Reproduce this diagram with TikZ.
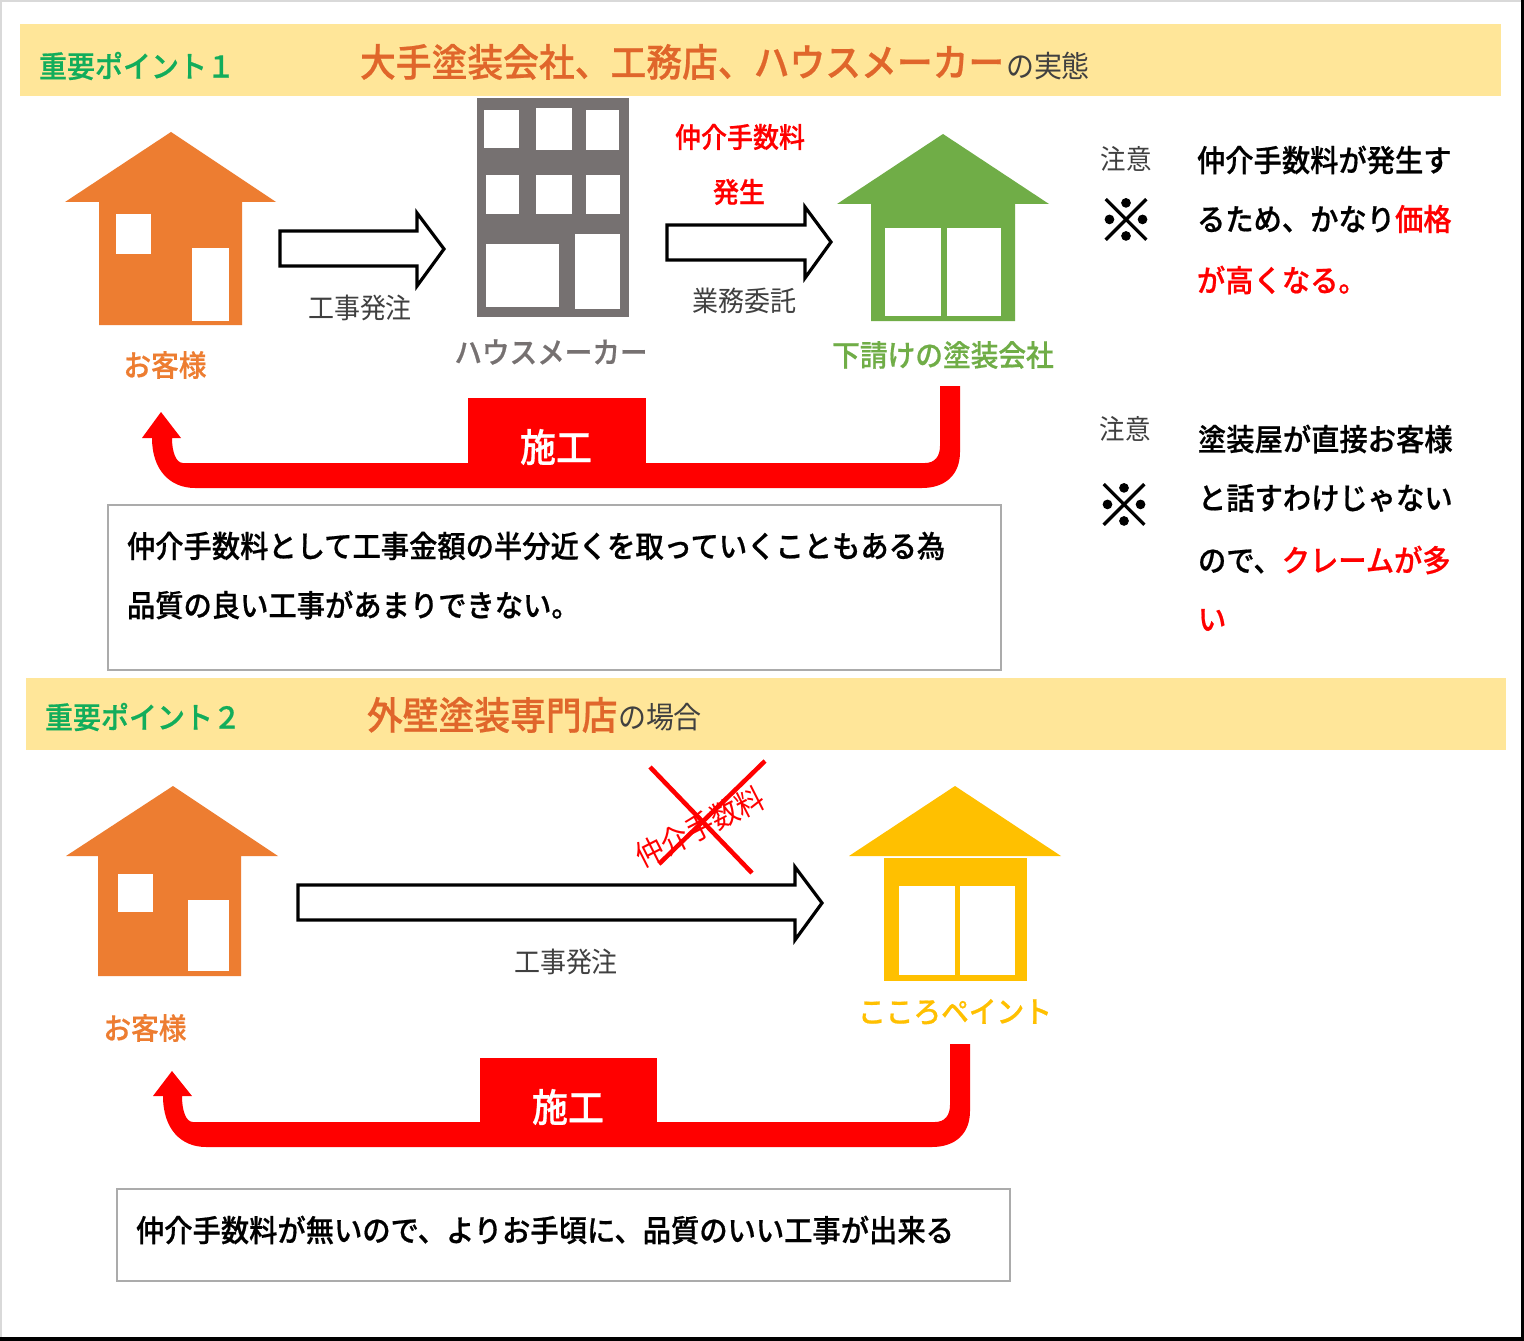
\documentclass[tikz,border=0pt]{standalone}
\usepackage{fontspec}
\setmainfont{Noto Sans CJK JP}[FakeStretch=0.93,BoldFont={Noto Sans CJK JP Medium},BoldFeatures={FakeStretch=0.93,FakeBold=0.6}]
\newfontfamily\heavy{Noto Sans CJK JP Bold}[FakeBold=1.6]
\definecolor{band}{HTML}{FFE699}
\definecolor{headgreen}{HTML}{12AD5B}
\definecolor{headorange}{HTML}{E0662B}
\definecolor{custorange}{HTML}{ED7D31}
\definecolor{subgreen}{HTML}{70AD47}
\definecolor{paintgold}{HTML}{FFC000}
\definecolor{bldg}{HTML}{767171}
\definecolor{darkgray}{HTML}{404040}
\definecolor{boxline}{HTML}{ABABAB}
\newcommand\szpx[1]{\fontsize{\fpeval{0.75*1.075*#1}}{\fpeval{0.9*#1}}\selectfont}
\tikzset{
  every node/.style={inner sep=0pt,outer sep=0pt},
  bandfill/.style={fill=band},
  hole/.style={fill=white},
  blockarrow/.style={draw=black,fill=white,line width=2.4pt,line join=miter,miter limit=6},
  redflow/.style={fill=red},
  notebox/.style={draw=boxline,fill=white,line width=0.9pt},
  crossline/.style={draw=red,line width=3.4pt},
  pointlabel/.style={font=\bfseries\szpx{28},text=headgreen,anchor=west},
  bigtitle/.style={font=\bfseries\szpx{35.8},text=headorange,anchor=west},
  subtitle/.style={font=\szpx{28},text=darkgray,anchor=west},
  graylabel/.style={font=\szpx{26},text=darkgray},
  colorlabel/.style={font=\bfseries\szpx{27.7}},
  bodytext/.style={font=\bfseries\szpx{28.3},text=black,anchor=west},
  warn/.style={font=\szpx{25.5},text=darkgray},
  kome/.style={font=\heavy\fontsize{43.5}{50}\selectfont,text=black},
  whitework/.style={font=\bfseries\szpx{36},text=white}
}
\begin{document}
\begin{tikzpicture}[x=0.75pt,y=-0.75pt]
\useasboundingbox (0,0) rectangle (1524,1341);
% frame
\fill[white] (0,0) rectangle (1524,1341);
\fill[gray!30] (0,0) rectangle (1524,2);
\fill[gray!30] (0,0) rectangle (1.5,1341);
\fill[black] (1521,0) rectangle (1524,1341);
\fill[black] (0,1337) rectangle (1524,1341);
% bands
\fill[bandfill] (20,24) rectangle (1501,96);
\fill[bandfill] (26,678) rectangle (1506,750);
\node[pointlabel] (p1) at (39,66) {重要ポイント１};
\node[bigtitle] (t1) at (360,62) {大手塗装会社、工務店、ハウスメーカー};
\node[subtitle] (s1) at (1006,66) {の実態};
\node[pointlabel] (p2) at (45,717) {重要ポイント２};
\node[bigtitle] (t2) at (367,715) {外壁塗装専門店};
\node[subtitle] (s2) at (618,717) {の場合};
% customer house 1
\fill[custorange] (171,132) -- (276,202) -- (242,202) -- (242,325) -- (99,325) -- (99,202) -- (65,202) -- cycle;
\fill[hole] (116,214) rectangle (151,254);
\fill[hole] (192,248) rectangle (229,321);
\node[colorlabel,text=custorange] (cust1) at (165,365) {お客様};
% building
\fill[bldg] (477,98) rectangle (629,317);
\fill[hole] (484,110) rectangle (519,148);
\fill[hole] (536,108) rectangle (572,150);
\fill[hole] (586,110) rectangle (619,150);
\fill[hole] (486,175) rectangle (519,214);
\fill[hole] (536,175) rectangle (572,214);
\fill[hole] (586,175) rectangle (620,214);
\fill[hole] (486,244) rectangle (559,307);
\fill[hole] (575,234) rectangle (620,309);
\node[font=\bfseries\szpx{27.6},text=bldg] (maker) at (551,352) {ハウスメーカー};
% green house
\fill[subgreen] (943,134) -- (1049,204) -- (1015,204) -- (1015,321) -- (871,321) -- (871,204) -- (837,204) -- cycle;
\fill[hole] (885,228) rectangle (941,316);
\fill[hole] (947,228) rectangle (1001,316);
\node[colorlabel,text=subgreen] (sub) at (943,355) {下請けの塗装会社};
% block arrows upper
\draw[blockarrow] (280,231) -- (417,231) -- (417,213) -- (444,249) -- (417,286) -- (417,266) -- (280,266) -- cycle;
\node[graylabel] (order1) at (360,308) {工事発注};
\draw[blockarrow] (667,225) -- (805,225) -- (805,207) -- (831,242) -- (805,278) -- (805,260) -- (667,260) -- cycle;
\node[font=\bfseries\szpx{26},text=red] (fee1) at (740,137) {仲介手数料};
\node[font=\bfseries\szpx{26},text=red] (fee2) at (739,192) {発生};
\node[graylabel] (work) at (744,301) {業務委託};
% red flow upper
\fill[redflow] (960,386) -- (960,452) .. controls (960,475) and (945,488) .. (922,488) -- (195,488)
  .. controls (170,488) and (152,470) .. (152,438) -- (142,438) -- (161,412) -- (181,438) -- (172,438)
  .. controls (172,452) and (176,463) .. (183,463) -- (925,463) .. controls (935,463) and (940,456) .. (940,446) -- (940,386) -- cycle;
\fill[redflow] (468,398) rectangle (646,464);
\node[whitework] (work1) at (556,447) {施工};
% note box upper
\draw[notebox] (108,505) rectangle (1001,670);
\node[bodytext] (b1) at (127,546) {仲介手数料として工事金額の半分近くを取っていくこともある為};
\node[bodytext] (b2) at (127,605) {品質の良い工事があまりできない。};
% right notes
\node[warn] (w1) at (1126,159) {注意};
\node[kome] (k1) at (1126,220) {※};
\node[bodytext] (r1) at (1197,160) {仲介手数料が発生す};
\node[bodytext] (r2) at (1197,219) {るため、かなり\textcolor{red}{価格}};
\node[bodytext,text=red] (r3) at (1197,280) {が高くなる。};
\node[warn] (w2) at (1125,429) {注意};
\node[kome] (k2) at (1124,505) {※};
\node[bodytext] (r4) at (1198,439) {塗装屋が直接お客様};
\node[bodytext] (r5) at (1198,498) {と話すわけじゃない};
\node[bodytext] (r6) at (1198,560) {ので、\textcolor{red}{クレームが多}};
\node[bodytext,text=red] (r7) at (1198,620) {い};
% customer house 2
\fill[custorange] (173,786) -- (278,856) -- (241,856) -- (241,976) -- (98,976) -- (98,856) -- (66,856) -- cycle;
\fill[hole] (118,874) rectangle (153,912);
\fill[hole] (188,900) rectangle (229,971);
\node[colorlabel,text=custorange] (cust2) at (145,1028) {お客様};
% gold house
\fill[paintgold] (955,786) -- (1061,856) -- (849,856) -- cycle;
\fill[paintgold] (884,858) rectangle (1027,981);
\fill[hole] (899,886) rectangle (955,975);
\fill[hole] (960,886) rectangle (1015,975);
\node[colorlabel,text=paintgold] (kokoro) at (955,1012) {こころペイント};
% block arrow lower
\draw[blockarrow] (298,885) -- (795,885) -- (795,867) -- (822,903) -- (795,940) -- (795,920) -- (298,920) -- cycle;
\node[graylabel] (order2) at (566,962) {工事発注};
\node[font=\szpx{28},text=red,rotate=27] (fee3) at (700,827) {仲介手数料};
\coordinate (xa) at (650,767);
\coordinate (xb) at (752,873);
\coordinate (xc) at (765,761);
\coordinate (xd) at (659,864);
\draw[crossline] (xa) -- (xb);
\draw[crossline] (xc) -- (xd);
% red flow lower
\fill[redflow] (970,1044) -- (970,1111) .. controls (970,1134) and (955,1147) .. (932,1147) -- (206,1147)
  .. controls (181,1147) and (163,1129) .. (163,1096) -- (153,1096) -- (172,1071) -- (192,1096) -- (182,1096)
  .. controls (182,1111) and (186,1122) .. (193,1122) -- (935,1122) .. controls (945,1122) and (950,1115) .. (950,1105) -- (950,1044) -- cycle;
\fill[redflow] (480,1058) rectangle (657,1123);
\node[whitework] (work2) at (568,1107) {施工};
% note box lower
\draw[notebox] (117,1189) rectangle (1010,1281);
\node[bodytext] (b3) at (136,1230) {仲介手数料が無いので、よりお手頃に、品質のいい工事が出来る};
\end{tikzpicture}
\end{document}
